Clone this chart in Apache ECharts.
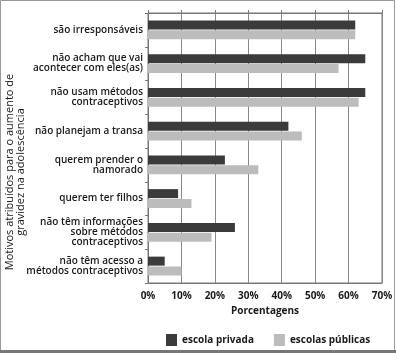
<!DOCTYPE html>
<html>
<head>
<meta charset="utf-8">
<script src="https://cdn.jsdelivr.net/npm/echarts@6/dist/echarts.min.js"></script>
<style>
html, body { margin: 0; padding: 0; background: #fff; }
#chart { width: 396px; height: 353px; }
</style>
</head>
<body>
<div id="chart"></div>
<script>
var chart = echarts.init(document.getElementById('chart'));

// motivos (de cima para baixo)
var categorias = [
    'são irresponsáveis',
    'não acham que vai\nacontecer com eles(as)',
    'não usam métodos\ncontraceptivos',
    'não planejam a transa',
    'querem prender o\nnamorado',
    'querem ter filhos',
    'não têm informações\nsobre métodos\ncontraceptivos',
    'não têm acesso a\nmétodos contraceptivos'
];
var escolaPrivada = [62, 65, 65, 42, 23, 9, 26, 5];
var escolasPublicas = [62, 57, 63, 46, 33, 13, 19, 10];
var xTicks = [0, 10, 20, 30, 40, 50, 60, 70];

var FONT = '"Open Sans", sans-serif';
var TXT = '#1a1a1a';

option = {
    animation: false,
    backgroundColor: '#fff',
    grid: {
        left: 148,
        right: 14,
        top: 13,
        bottom: 70,
        show: true,
        borderColor: '#777',
        borderWidth: 1
    },
    legend: {
        left: 161,
        top: 329,
        itemWidth: 11,
        itemHeight: 12,
        itemGap: 20,
        icon: 'rect',
        data: ['escola privada', 'escolas públicas'],
        textStyle: { color: TXT, fontFamily: FONT, fontSize: 10, fontWeight: 'bold' }
    },
    xAxis: [{
        type: 'value',
        min: xTicks[0],
        max: xTicks[xTicks.length - 1],
        interval: 10,
        name: 'Porcentagens',
        nameLocation: 'middle',
        nameGap: 22,
        nameTextStyle: { color: TXT, fontFamily: FONT, fontSize: 10, fontWeight: 'bold' },
        axisLine: { show: true, lineStyle: { color: '#777' } },
        axisTick: { show: false },
        axisLabel: {
            color: TXT, fontFamily: FONT, fontSize: 10, fontWeight: 'bold', margin: 8,
            formatter: function (v) { return v + '%'; }
        },
        splitLine: { show: true, lineStyle: { color: '#888', width: 1 } }
    }, {
        type: 'value',
        position: 'top',
        min: 0,
        max: 70,
        interval: 10,
        axisLine: { show: true, lineStyle: { color: '#777' } },
        axisTick: { show: true, length: 3, lineStyle: { color: '#777' } },
        axisLabel: { show: false },
        splitLine: { show: false }
    }],
    yAxis: {
        type: 'category',
        inverse: true,
        data: categorias,
        axisLine: { show: true, lineStyle: { color: '#777' } },
        axisTick: { show: true, length: 3, lineStyle: { color: '#777' } },
        axisLabel: {
            color: TXT, fontFamily: FONT, fontSize: 10, fontWeight: 600,
            lineHeight: 10, margin: 5, align: 'right'
        }
    },
    graphic: [{
        type: 'text',
        x: 15,
        y: 172,
        rotation: Math.PI / 2,
        style: {
            text: 'Motivos atribuídos para o aumento de\ngravidez na adolescência',
            fill: TXT,
            font: '11px "Open Sans", sans-serif',
            lineHeight: 11,
            align: 'center',
            verticalAlign: 'middle'
        }
    }, {
        type: 'rect',
        shape: { x: 0.5, y: 0.5, width: 394, height: 350 },
        style: { fill: 'none', stroke: '#999', lineWidth: 1 },
        silent: true
    }, {
        type: 'rect',
        shape: { x: 0, y: 350, width: 396, height: 3 },
        style: { fill: '#777' },
        silent: true
    }],
    series: [{
        name: 'escola privada',
        type: 'bar',
        data: escolaPrivada,
        barWidth: 9,
        barGap: '11%',
        itemStyle: { color: '#3b3b3b' }
    }, {
        name: 'escolas públicas',
        type: 'bar',
        data: escolasPublicas,
        barWidth: 9,
        itemStyle: { color: '#bcbcbc' }
    }]
};

chart.setOption(option);
</script>
</body>
</html>
